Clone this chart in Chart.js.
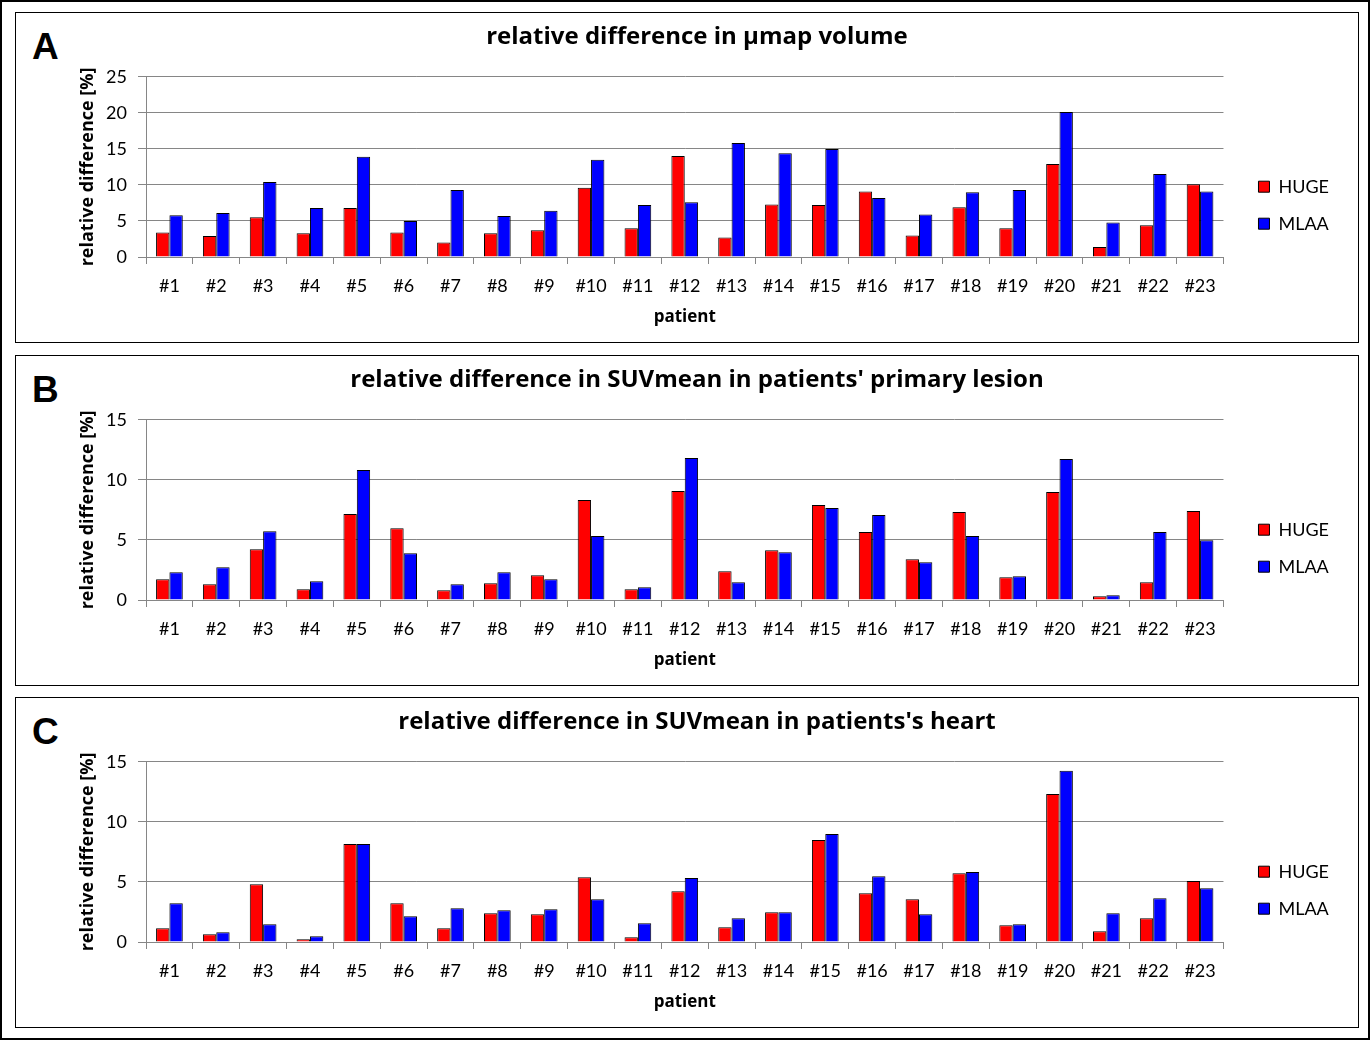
<!DOCTYPE html>
<html>
<head>
<meta charset="utf-8">
<script src="https://cdn.jsdelivr.net/npm/chart.js@4.4.1/dist/chart.umd.min.js"></script>
<style>
  html, body { margin: 0; padding: 0; background: #fff; }
  body { width: 1371px; height: 1041px; position: relative; overflow: hidden; }
  .frame { position: absolute; left: 0; top: 0; width: 1370px; height: 1040px; border: 2px solid #000; box-sizing: border-box; }
  .panel { position: absolute; left: 15px; width: 1344px; height: 331px; border: 1px solid #000; box-sizing: border-box; background: #fff; }
  .panel canvas { position: absolute; left: 0; top: 0; }
  .letter { position: absolute; left: 16px; top: 15px; font: bold 37px "Liberation Sans", Arial, sans-serif; line-height: 37px; color: #000; }
</style>
</head>
<body>
<div class="frame"></div>
<div class="panel" style="top:12px"><div class="letter">A</div><canvas id="chartA" width="1342" height="329"></canvas></div>
<div class="panel" style="top:355px"><div class="letter">B</div><canvas id="chartB" width="1342" height="329"></canvas></div>
<div class="panel" style="top:697px"><div class="letter">C</div><canvas id="chartC" width="1342" height="329"></canvas></div>
<script>
// Patients on the x axis
const patients = ['#1', '#2', '#3', '#4', '#5', '#6', '#7', '#8', '#9', '#10', '#11', '#12',
                  '#13', '#14', '#15', '#16', '#17', '#18', '#19', '#20', '#21', '#22', '#23'];

// A: relative difference in umap volume [%]
const volumeHuge = [3.4, 2.9, 5.5, 3.3, 6.8, 3.4, 2.0, 3.3, 3.7, 9.6, 4.0, 14.0, 2.7, 7.3, 7.2, 9.1, 3.0, 6.9, 4.0, 12.9, 1.4, 4.4, 10.1];
const volumeMlaa = [5.8, 6.1, 10.4, 6.8, 13.9, 5.0, 9.3, 5.7, 6.4, 13.5, 7.2, 7.6, 15.8, 14.4, 15.0, 8.2, 5.9, 9.0, 9.3, 20.1, 4.8, 11.5, 9.1];

// B: relative difference in SUVmean, primary lesion [%]
const lesionHuge = [1.73, 1.31, 4.23, 0.89, 7.15, 5.98, 0.81, 1.39, 2.06, 8.32, 0.89, 9.07, 2.39, 4.15, 7.9, 5.65, 3.4, 7.32, 1.89, 8.99, 0.31, 1.48, 7.4];
const lesionMlaa = [2.31, 2.73, 5.73, 1.56, 10.83, 3.9, 1.31, 2.31, 1.73, 5.32, 1.06, 11.83, 1.48, 3.98, 7.65, 7.07, 3.14, 5.32, 1.98, 11.74, 0.39, 5.65, 4.98];

// C: relative difference in SUVmean, heart [%]
const heartHuge = [1.14, 0.64, 4.81, 0.22, 8.15, 3.23, 1.14, 2.39, 2.31, 5.4, 0.39, 4.23, 1.22, 2.48, 8.49, 4.06, 3.56, 5.73, 1.39, 12.33, 0.89, 1.98, 5.07];
const heartMlaa = [3.23, 0.81, 1.48, 0.47, 8.15, 2.14, 2.81, 2.64, 2.73, 3.56, 1.56, 5.32, 1.98, 2.48, 8.99, 5.48, 2.31, 5.82, 1.48, 14.25, 2.39, 3.65, 4.48];

const GRID = '#868686';
const FONT = 'Lato';
const BOLD = 'Open Sans';

Chart.defaults.font.family = FONT;
Chart.defaults.color = '#000';

function makeChart(canvasId, title, huge, mlaa, yMax) {
    return new Chart(document.getElementById(canvasId), {
        type: 'bar',
        data: {
            labels: patients,
            datasets: [
                { label: 'HUGE', data: huge, backgroundColor: '#ff0000', borderColor: '#000', borderWidth: 1,
                  categoryPercentage: 0.57, barPercentage: 1.0 },
                { label: 'MLAA', data: mlaa, backgroundColor: '#0000ff', borderColor: '#000', borderWidth: 1,
                  categoryPercentage: 0.57, barPercentage: 1.0 }
            ]
        },
        options: {
            responsive: false,
            animation: false,
            layout: { padding: { left: 39, right: 19, top: 0, bottom: 0 } },
            plugins: {
                title: {
                    display: true, text: title, color: '#000',
                    font: { family: BOLD, size: 24, weight: 'bold' },
                    padding: { top: 10, bottom: 25 }
                },
                legend: {
                    position: 'right',
                    // empty legend title only pushes the two entries down
                    title: { display: true, text: '', font: { size: 12 }, padding: { top: 41, bottom: 0 } },
                    labels: { boxWidth: 11, boxHeight: 11, padding: 19, color: '#000', font: { family: FONT, size: 18 } }
                },
                tooltip: { enabled: false }
            },
            scales: {
                x: {
                    grid: { display: true, drawOnChartArea: false, drawTicks: true, tickLength: 7, color: GRID },
                    border: { color: GRID },
                    ticks: { padding: 11, font: { family: FONT, size: 18 }, color: '#000' },
                    title: { display: true, text: 'patient', font: { family: BOLD, size: 17, weight: 'bold' }, padding: { top: 0, bottom: 15 } },
                    afterFit: s => { s.height = 85; }
                },
                y: {
                    min: 0, max: yMax,
                    grid: { color: GRID, tickLength: 8 },
                    border: { color: GRID },
                    ticks: { stepSize: 5, padding: 11, font: { family: FONT, size: 18 }, color: '#000' },
                    title: { display: true, text: 'relative difference [%]', font: { family: BOLD, size: 18, weight: 'bold' }, padding: { top: 22, bottom: 0 } },
                    afterFit: s => { s.width = 91; }
                },
                // empty spacer between the plot and the legend
                legendGap: {
                    type: 'linear', position: 'right', display: true,
                    grid: { display: false }, border: { display: false }, ticks: { display: false },
                    afterFit: s => { s.width = 16; }
                }
            }
        }
    });
}

makeChart('chartA', 'relative difference in µmap volume', volumeHuge, volumeMlaa, 25);
makeChart('chartB', "relative difference in SUVmean in patients' primary lesion", lesionHuge, lesionMlaa, 15);
makeChart('chartC', "relative difference in SUVmean in patients's heart", heartHuge, heartMlaa, 15);
</script>
</body>
</html>
